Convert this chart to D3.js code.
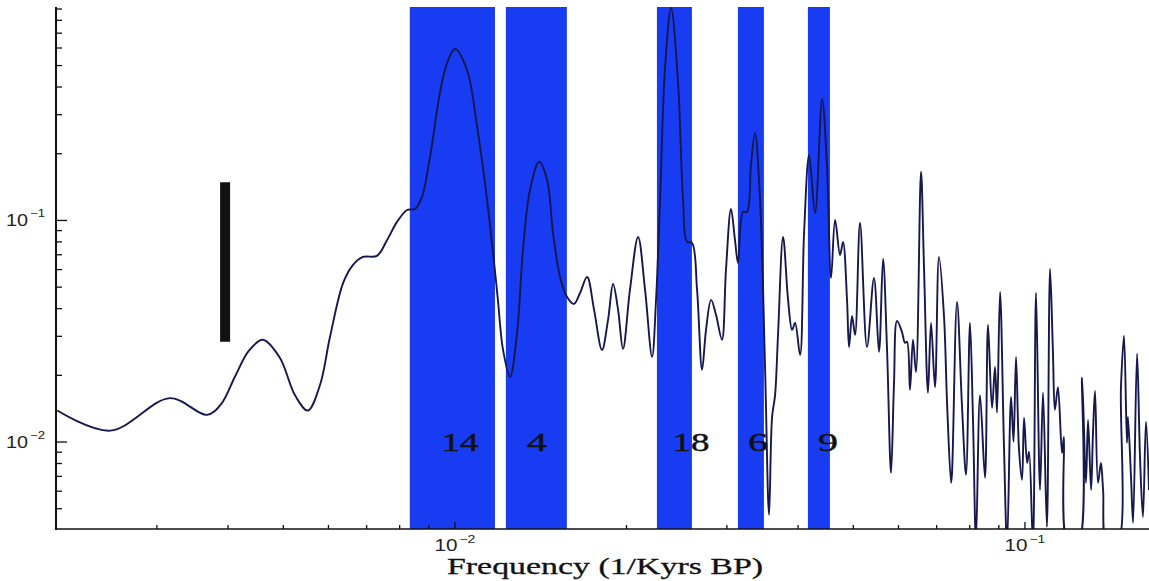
<!DOCTYPE html>
<html>
<head>
<meta charset="utf-8">
<script src="https://cdn.jsdelivr.net/npm/d3@7"></script>
<style>
  html, body { margin: 0; padding: 0; background: #fff; }
  svg { display: block; }
</style>
</head>
<body>
<svg id="chart" width="1149" height="581"></svg>
<script>
// Power spectrum (frequency in 1/kyr, spectral power)
const frequency = [
  0.00201, 0.00249, 0.00317, 0.00368, 0.00390, 0.00412, 0.00436, 0.00461,
  0.00494, 0.00525, 0.00553, 0.00581, 0.00605, 0.00638, 0.00664, 0.00691, 0.00731, 0.00762,
  0.00793, 0.00826, 0.00853, 0.00877, 0.00906, 0.00943, 0.00971, 0.01002, 0.01052, 0.01096,
  0.01141, 0.01169, 0.01192, 0.01217, 0.01252, 0.01288, 0.01319, 0.01357, 0.01408, 0.01454,
  0.01489, 0.01532, 0.01576, 0.01621, 0.01661, 0.01709, 0.01758, 0.01815, 0.01860, 0.01898,
  0.01937, 0.01976, 0.02032, 0.02100, 0.02160, 0.02222, 0.02258, 0.02295, 0.02342, 0.02399,
  0.02468, 0.02518, 0.02559, 0.02611, 0.02665, 0.02719, 0.02763, 0.02820, 0.02877, 0.02947,
  0.02995, 0.03056, 0.03106, 0.03144, 0.03208, 0.03260, 0.03313, 0.03367, 0.03437, 0.03507,
  0.03564, 0.03608, 0.03652, 0.03697, 0.03772, 0.03849, 0.03912, 0.03960, 0.04040, 0.04106,
  0.04190, 0.04293, 0.04416, 0.04505, 0.04579, 0.04654, 0.04748, 0.04806, 0.04884, 0.04924,
  0.04984, 0.05045, 0.05147, 0.05294, 0.05446, 0.05558, 0.05649, 0.05741, 0.05834, 0.05905,
  0.05977, 0.06098, 0.06172, 0.06223, 0.06298, 0.06375, 0.06453, 0.06585, 0.06665, 0.06773,
  0.06857, 0.06968, 0.07081, 0.07227, 0.07316, 0.07435, 0.07464, 0.07616, 0.07772, 0.07898,
  0.08026, 0.08124, 0.08222, 0.08358, 0.08528, 0.08632, 0.08772, 0.08880, 0.08952, 0.09062,
  0.09210, 0.09322, 0.09474, 0.09570, 0.09666, 0.09784, 0.09904, 0.09984, 0.1011, 0.1019,
  0.1035, 0.1048, 0.1065, 0.1078, 0.1095, 0.1109, 0.1122, 0.1131, 0.1145, 0.1164,
  0.1173, 0.1192, 0.1242, 0.1262, 0.1282, 0.1293, 0.1309, 0.1319, 0.1330, 0.1346,
  0.1362, 0.1374, 0.1396, 0.1454, 0.1477, 0.1495, 0.1513, 0.1519, 0.1538, 0.1551,
  0.1576, 0.1595, 0.1614, 0.1634, 0.1654
];
const power = [
  0.0138, 0.0112, 0.0157, 0.0132, 0.0148, 0.0196, 0.0257, 0.0288,
  0.0239, 0.0162, 0.0138, 0.0180, 0.0297, 0.0520, 0.0627, 0.0681, 0.0688, 0.0812,
  0.0980, 0.1109, 0.1121, 0.127, 0.192, 0.374, 0.511, 0.5905, 0.475, 0.263,
  0.123, 0.0710, 0.0436, 0.0259, 0.0196, 0.0309, 0.0732, 0.1366, 0.183, 0.1515,
  0.0874, 0.0553, 0.0449, 0.0418, 0.0468, 0.0553, 0.0393, 0.0259, 0.0354, 0.0514,
  0.0393, 0.0262, 0.0483, 0.0838, 0.0483, 0.0241, 0.0436, 0.123, 0.490, 0.904,
  0.415, 0.123, 0.0796, 0.0788, 0.0483, 0.0211, 0.0319, 0.0436, 0.0373, 0.0288,
  0.0595, 0.1121, 0.0812, 0.0640, 0.1087, 0.1087, 0.177, 0.247, 0.123, 0.0217,
  0.00467, 0.0129, 0.0162, 0.0309, 0.0838, 0.0436, 0.0319, 0.0343, 0.0246, 0.0874,
  0.196, 0.1076, 0.351, 0.173, 0.0548, 0.1000, 0.0695, 0.0796, 0.0436, 0.0267,
  0.0369, 0.0303, 0.0969, 0.0267, 0.0548, 0.0254, 0.0667, 0.0259, 0.00722, 0.0184,
  0.0350, 0.0312, 0.0279, 0.0282, 0.0171, 0.0288, 0.0206, 0.165, 0.0614, 0.0166,
  0.0343, 0.0176, 0.0681, 0.0365, 0.0149, 0.00651, 0.00722, 0.0427, 0.0143, 0.00708,
  0.0343, 0.0125, 0.00360, 0.0162, 0.00686, 0.0336, 0.0142, 0.0217, 0.0135, 0.0473,
  0.00918, 0.00342, 0.0159, 0.00997, 0.0241, 0.00918, 0.00672, 0.0128, 0.00801, 0.00899,
  0.00342, 0.0468, 0.00605, 0.0166, 0.00412, 0.0601, 0.0254, 0.0139, 0.0176, 0.00889,
  0.0105, 0.00342, 0.00342, 0.0194, 0.00651, 0.0125, 0.00605, 0.0109, 0.0169, 0.00651,
  0.00801, 0.00605, 0.00342, 0.00342, 0.0178, 0.0300, 0.00987, 0.0129, 0.00693, 0.00430,
  0.0249, 0.00853, 0.00457, 0.0123, 0.00605
];

// Shaded frequency bands and their numbers
const bandStart = [0.00835, 0.01231, 0.02266, 0.03143, 0.04170];
const bandEnd   = [0.01178, 0.01575, 0.02610, 0.03491, 0.04558];
const bandNames = ["14", "4", "18", "6", "9"];
const bandNameFreq = [0.01023, 0.01396, 0.02600, 0.03409, 0.04522];
const bandNameLevel = 0.0091;

// Confidence bar
const barFreq = 0.00396;
const barLow = 0.0282;
const barHigh = 0.148;

// Axis ticks
const xMajorTicks = [0.01, 0.1];
const xMajorExponents = ["\u22122", "\u22121"];
const xMinorTicks = [0.003, 0.004, 0.005, 0.006, 0.007, 0.008, 0.009,
                     0.02, 0.03, 0.04, 0.05, 0.06, 0.07, 0.08, 0.09];
const yMajorTicks = [0.01, 0.1];
const yMajorExponents = ["\u22122", "\u22121"];
const yMinorTicks = [0.005, 0.006, 0.007, 0.008, 0.009,
                     0.02, 0.03, 0.04, 0.05, 0.06, 0.07, 0.08, 0.09,
                     0.2, 0.3, 0.4, 0.5, 0.6, 0.7, 0.8, 0.9];
const xTitle = "Frequency (1/Kyrs BP)";

const plotLeft = 56, plotRight = 1149, plotTop = 7, plotBottom = 529;
const svg = d3.select("#chart");

const x = d3.scaleLog().domain([0.002, 0.1654]).range([plotLeft, plotRight]);
const y = d3.scaleLog().domain([0.00403, 0.914]).range([plotBottom, plotTop]);

svg.append("defs").append("clipPath").attr("id", "plot")
  .append("rect").attr("x", plotLeft).attr("y", plotTop)
  .attr("width", plotRight - plotLeft).attr("height", plotBottom - plotTop);

// Bands
svg.append("g").selectAll("rect")
  .data(d3.range(bandStart.length))
  .join("rect")
  .attr("x", i => x(bandStart[i]))
  .attr("width", i => x(bandEnd[i]) - x(bandStart[i]))
  .attr("y", y(y.domain()[1]))
  .attr("height", y(y.domain()[0]) - y(y.domain()[1]))
  .attr("fill", "#183cf2");

// Band numbers
svg.append("g").selectAll("text")
  .data(d3.range(bandNames.length))
  .join("text")
  .attr("x", i => x(bandNameFreq[i]))
  .attr("y", y(bandNameLevel))
  .attr("text-anchor", "middle")
  .attr("font-family", "'Liberation Serif', 'Times New Roman', serif")
  .attr("font-size", 25)
  .attr("fill", "#111")
  .attr("stroke", "#111")
  .attr("stroke-width", 0.4)
  .attr("textLength", i => bandNames[i].length > 1 ? 37 : 20)
  .attr("lengthAdjust", "spacingAndGlyphs")
  .text(i => bandNames[i]);

// Spectrum curve
const line = d3.line()
  .x((d, i) => x(frequency[i]))
  .y((d, i) => y(power[i]))
  .curve(d3.curveCatmullRom.alpha(0.5));

svg.append("path")
  .datum(power)
  .attr("clip-path", "url(#plot)")
  .attr("d", line)
  .attr("fill", "none")
  .attr("stroke", "#17174f")
  .attr("stroke-width", 1.9)
  .attr("stroke-linejoin", "round");

// Confidence bar
svg.append("line")
  .attr("x1", x(barFreq)).attr("x2", x(barFreq))
  .attr("y1", y(barLow)).attr("y2", y(barHigh))
  .attr("stroke", "#111").attr("stroke-width", 10);

// Axes
function styleAxis(g) {
  g.select(".domain").remove();
  g.selectAll(".tick line").attr("stroke", "#111").attr("stroke-width", 1.3);
  g.selectAll(".tick text").remove();
}
svg.append("g").attr("transform", `translate(${plotLeft},0)`)
  .call(d3.axisLeft(y).tickValues(yMinorTicks).tickSize(-6).tickFormat(""))
  .call(styleAxis);
svg.append("g").attr("transform", `translate(${plotLeft},0)`)
  .call(d3.axisLeft(y).tickValues(yMajorTicks).tickSize(-11).tickFormat(""))
  .call(styleAxis);
svg.append("g").attr("transform", `translate(0,${plotBottom})`)
  .call(d3.axisBottom(x).tickValues(xMinorTicks).tickSize(-4).tickFormat(""))
  .call(styleAxis);
svg.append("g").attr("transform", `translate(0,${plotBottom})`)
  .call(d3.axisBottom(x).tickValues(xMajorTicks).tickSize(-7).tickFormat(""))
  .call(styleAxis);

svg.append("line").attr("x1", plotLeft).attr("x2", plotLeft)
  .attr("y1", plotTop).attr("y2", plotBottom + 1)
  .attr("stroke", "#111").attr("stroke-width", 2);
svg.append("line").attr("x1", plotLeft - 1).attr("x2", plotRight)
  .attr("y1", plotBottom).attr("y2", plotBottom)
  .attr("stroke", "#111").attr("stroke-width", 1.6);

const sans = "'Liberation Sans', Arial, Helvetica, sans-serif";

// Y tick labels 10^n
yMajorTicks.forEach((v, i) => {
  svg.append("text").attr("x", 28).attr("y", y(v) + 6)
    .attr("text-anchor", "end").attr("font-family", sans).attr("font-size", 16)
    .attr("fill", "#222").attr("textLength", 22).attr("lengthAdjust", "spacingAndGlyphs")
    .text("10");
  svg.append("text").attr("x", 30).attr("y", y(v) - 3)
    .attr("font-family", sans).attr("font-size", 10.5)
    .attr("fill", "#222").attr("textLength", 15).attr("lengthAdjust", "spacingAndGlyphs")
    .text(yMajorExponents[i]);
});

// X tick labels 10^n
xMajorTicks.forEach((v, i) => {
  svg.append("text").attr("x", x(v) + 3).attr("y", 551)
    .attr("text-anchor", "end").attr("font-family", sans).attr("font-size", 16)
    .attr("fill", "#222").attr("textLength", 23).attr("lengthAdjust", "spacingAndGlyphs")
    .text("10");
  svg.append("text").attr("x", x(v) + 5).attr("y", 543)
    .attr("font-family", sans).attr("font-size", 10.5)
    .attr("fill", "#222").attr("textLength", 16).attr("lengthAdjust", "spacingAndGlyphs")
    .text(xMajorExponents[i]);
});

// X axis title
svg.append("text").attr("x", 447).attr("y", 574)
  .attr("font-family", "'Liberation Serif', 'Times New Roman', serif")
  .attr("font-size", 24)
  .attr("fill", "#111")
  .attr("stroke", "#111")
  .attr("stroke-width", 0.3)
  .attr("textLength", 316).attr("lengthAdjust", "spacingAndGlyphs")
  .text(xTitle);
</script>
</body>
</html>
